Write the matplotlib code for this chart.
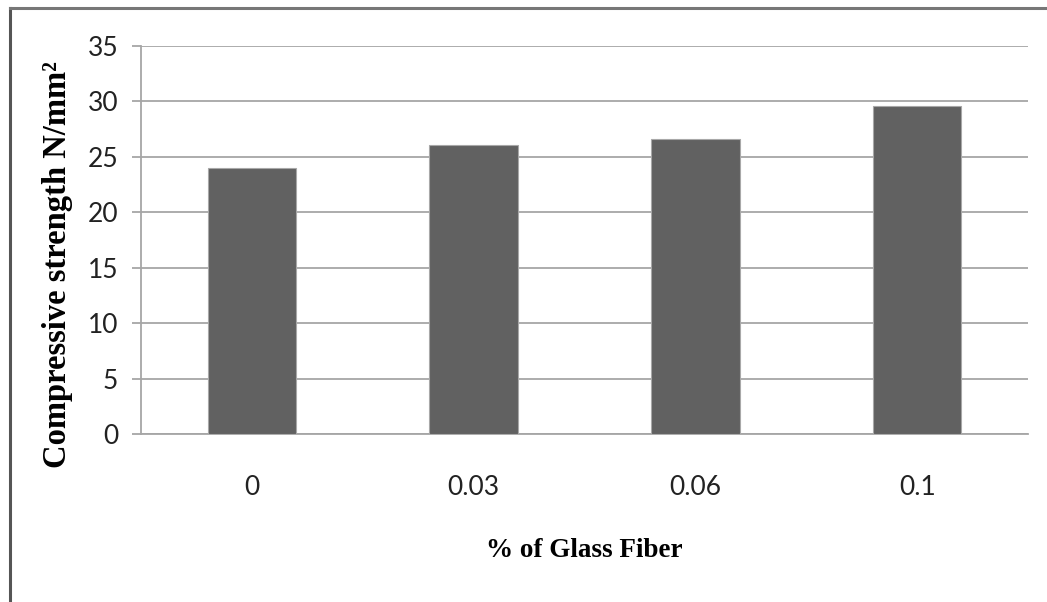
import matplotlib
matplotlib.use("Agg")
import matplotlib.pyplot as plt
from matplotlib.lines import Line2D
import numpy as np

categories = ["0", "0.03", "0.06", "0.1"]
values = [24.0, 26.1, 26.6, 29.6]
yticks = [0, 5, 10, 15, 20, 25, 30, 35]

tick_font = ["Lato", "DejaVu Sans"]
label_font = ["Liberation Serif", "DejaVu Serif"]

fig = plt.figure(figsize=(10.47, 6.02), dpi=100)
W, H = 1047, 602
left, right = 141, 1028
top, bottom = 45.7, 434.3
ax = fig.add_axes([left / W, 1 - bottom / H, (right - left) / W, (bottom - top) / H])

x = np.arange(len(categories))
ax.bar(x, values, width=0.4, color="#616161", edgecolor="#a8a8a8", linewidth=0.8, zorder=3)

ax.set_xlim(-0.5, len(categories) - 0.5)
ax.set_ylim(0, 35)
ax.set_yticks(yticks)
ax.set_yticklabels([str(v) for v in yticks], fontfamily=tick_font, fontsize=19)
ax.set_xticks(x)
ax.set_xticklabels(categories, fontfamily=tick_font, fontsize=19)

ax.yaxis.grid(True, color="#a6a6a6", linewidth=1.3, zorder=0)
ax.tick_params(axis="y", length=6.5, width=1.3, color="#a6a6a6", pad=10, labelcolor="#222222")
ax.tick_params(axis="x", length=0, pad=29, labelcolor="#222222")

for s in ["top", "right"]:
    ax.spines[s].set_visible(False)
for s in ["left", "bottom"]:
    ax.spines[s].set_color("#a6a6a6")
    ax.spines[s].set_linewidth(1.3)

ax.set_xlabel("% of Glass Fiber", fontfamily=label_font, fontweight="bold", fontsize=19.5)
ax.xaxis.set_label_coords(0.5, -0.298)
ax.xaxis.label.set_va("center")
ax.set_ylabel("Compressive strength N/mm²", fontfamily=label_font, fontweight="bold", fontsize=23.5)
ax.yaxis.set_label_coords(-0.094, 0.436)
ax.yaxis.label.set_va("center")

# outer frame lines (left and top)
fig.add_artist(Line2D([10 / W, 10 / W], [0, 1 - 8 / H], transform=fig.transFigure, color="#555555", linewidth=2.2))
fig.add_artist(Line2D([10 / W, 1], [1 - 8 / H, 1 - 8 / H], transform=fig.transFigure, color="#777777", linewidth=2.2))

fig.savefig("out.png", dpi=100)
